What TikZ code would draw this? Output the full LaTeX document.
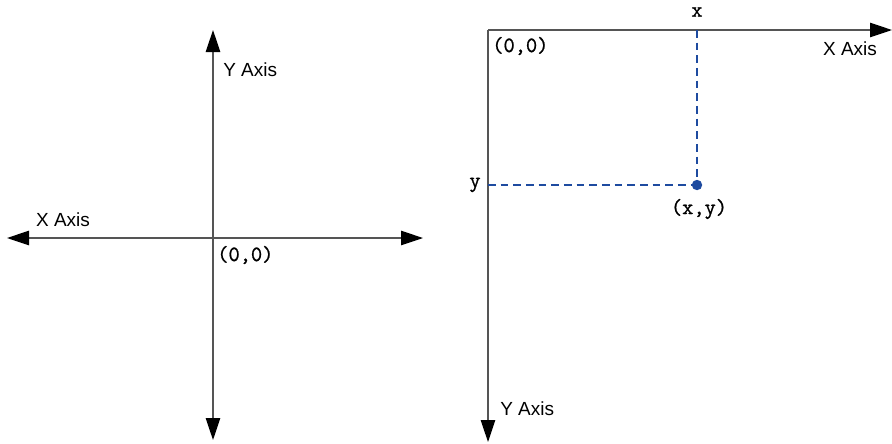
\documentclass[tikz,border=0pt]{standalone}
\usepackage{fontspec}
\setsansfont{Liberation Sans}
\setmonofont{Latin Modern Mono}[AutoFakeBold=0.9]
\usetikzlibrary{positioning,arrows.meta}

\definecolor{pointblue}{RGB}{30,75,160}
\definecolor{axisgray}{RGB}{85,85,85}

\tikzset{
  tip/.tip={Triangle[length=0.55cm,width=0.36cm,color=black]},
  axis/.style={draw=axisgray, line width=0.9pt},
  guide/.style={draw=pointblue, dash pattern=on 5.5pt off 3.5pt, line width=0.75pt},
  axislabel/.style={font=\sffamily\fontsize{13.5}{16}\selectfont, inner sep=0pt},
  coordtext/.style={font=\ttfamily\bfseries\fontsize{15.5}{18}\selectfont, inner sep=0pt},
}

\begin{document}
\begin{tikzpicture}[x=0.025cm, y=-0.025cm]
  \useasboundingbox (0,0) rectangle (892,443);

  % cartesian axes, origin in the middle
  \coordinate (west) at (7,238);
  \coordinate (east) at (423,238);
  \coordinate (north) at (213,30);
  \coordinate (south) at (213,440);
  \draw[axis, tip-tip] (west) -- (east);
  \draw[axis, tip-tip] (south) -- (north);

  \node (ylabel) [axislabel, anchor=west] at (223,70) {Y Axis};
  \node (xlabel) [axislabel] at (63,220) {X Axis};
  \node (origin) [coordtext, anchor=west] at (217,255) {(0,0)};

  % screen axes, origin in the top left corner
  \coordinate (corner) at (488,30);
  \coordinate (right) at (892,30);
  \coordinate (down) at (488,442);
  \draw[axis, -tip] (corner) -- (right);
  \draw[axis, -tip] (corner) -- (down);

  \node (sorigin) [coordtext, anchor=west] at (492,46) {(0,0)};
  \node (sxlabel) [axislabel] at (850,49) {X Axis};
  \node (sylabel) [axislabel, anchor=west] at (500,409) {Y Axis};

  % the point and its projections
  \coordinate (xtick) at (697,30);
  \coordinate (ytick) at (488,185);
  \node (pt) [circle, fill=pointblue, inner sep=0pt, minimum size=0.26cm] at (697,185) {};
  \draw[guide] (xtick) -- (pt.center);
  \draw[guide] (ytick) -- (pt.center);

  \node (xname) [coordtext] at (697,12) {x};
  \node (yname) [coordtext] at (475,185) {y};
  \node (ptname) [coordtext] at (699,209) {(x,y)};
\end{tikzpicture}
\end{document}
